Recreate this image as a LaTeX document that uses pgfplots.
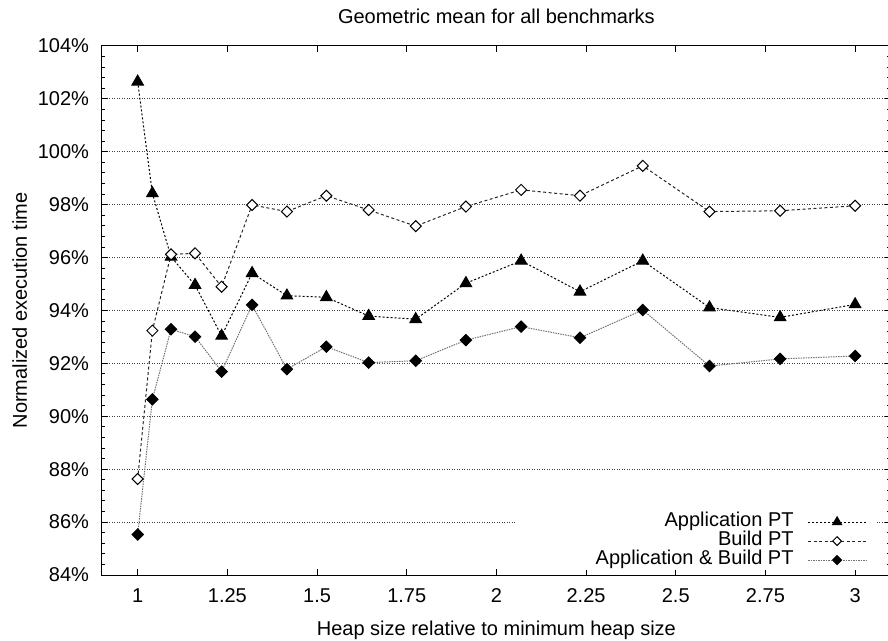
\documentclass[border=0pt]{standalone}
\usepackage{fontspec}
\setmainfont{Liberation Sans}
\usepackage{pgfplots}
\usepackage{pgfplotstable}
\pgfplotsset{compat=1.18}

% heap size factor, normalized execution time (%) per configuration
\pgfplotstableread{
x      app     build   both
1.000  102.65  87.63   85.53
1.041  98.43   93.24   90.64
1.093  96.03   96.12   93.29
1.160  94.96   96.16   93.01
1.234  93.04   94.90   91.69
1.319  95.41   97.99   94.21
1.416  94.56   97.74   91.78
1.526  94.50   98.34   92.63
1.644  93.79   97.80   92.03
1.775  93.67   97.19   92.10
1.915  95.03   97.93   92.88
2.069  95.88   98.56   93.39
2.233  94.71   98.34   92.97
2.408  95.88   99.47   94.02
2.594  94.11   97.74   91.90
2.791  93.74   97.77   92.17
3.000  94.23   97.96   92.28
}\geomean

\begin{document}
\fontsize{10bp}{12bp}\selectfont
\begin{tikzpicture}[font=\fontsize{10bp}{12bp}\selectfont]
\begin{axis}[
  at={(0,0)}, anchor=south west,
  scale only axis, width=394.6bp, height=264.5bp,
  xmin=0.9, xmax=3.1, ymin=84, ymax=104,
  xtick={1,1.25,1.5,1.75,2,2.25,2.5,2.75,3},
  ytick={84,86,88,90,92,94,96,98,100,102,104},
  minor y tick num=4,
  /pgf/number format/assume math mode=true,
  yticklabel={\pgfmathprintnumber{\tick}\%},
  tick align=inside,
  major tick length=3bp, minor tick length=1.8bp,
  tick style={black, line width=0.5bp},
  axis line style={black, line width=0.5bp},
  ymajorgrids,
  major grid style={black!75, line width=0.5bp, dash pattern=on 0.5bp off 0.75bp},
  xticklabel style={anchor=base, yshift=-13.5bp, inner sep=0pt},
  yticklabel style={anchor=east, inner sep=0pt, xshift=-6.2bp},
  title={Geometric mean for all benchmarks},
  every axis title/.style={at={(axis description cs:0.5,1.04159)}, anchor=base, inner sep=0pt},
  xlabel={Heap size relative to minimum heap size},
  xlabel style={at={(axis description cs:0.5,-0.11342)}, anchor=base, inner sep=0pt},
  ylabel={Normalized execution time},
  ylabel style={at={(axis description cs:-0.09503,0.5)}, anchor=base, inner sep=0pt},
  legend image code/.code={\draw[mark repeat=2,mark phase=2,#1,
      every mark/.append style={scale=0.8}]
    plot coordinates {(0bp,0bp) (14.5bp,0bp) (29bp,0bp)};},
  legend cell align=right,
  legend plot pos=right,
  legend style={at={(0.98226,0.00945)}, anchor=south east, fill=white, draw=none,
    inner xsep=5bp, inner ysep=0pt, column sep=7bp, row sep=0pt,
    nodes={inner sep=0pt, text height=7bp, text depth=2.5bp}},
]
\addplot[black, line width=0.5bp, dash pattern=on 1bp off 1bp,
  mark=triangle*, mark size=3.3bp, mark options={solid, fill=black}]
  table[x=x, y=app] {\geomean};
\addlegendentry{Application PT}
\addplot[black!85, line width=0.5bp, dash pattern=on 1.5bp off 1.25bp,
  mark=square*, mark size=1.95bp, mark options={solid, rotate=45, fill=white, draw=black}]
  table[x=x, y=build] {\geomean};
\addlegendentry{Build PT}
\addplot[black!55, line width=0.5bp, dash pattern=on 0.75bp off 0.5bp,
  mark=square*, mark size=2bp, mark options={solid, rotate=45, fill=black, draw=black}]
  table[x=x, y=both] {\geomean};
\addlegendentry{\hspace*{35bp}Application \& Build PT}
\end{axis}
\pgfresetboundingbox
\path[use as bounding box] (-50.9bp,-33bp) rectangle (393.1bp,287.5bp);
\end{tikzpicture}
\end{document}
